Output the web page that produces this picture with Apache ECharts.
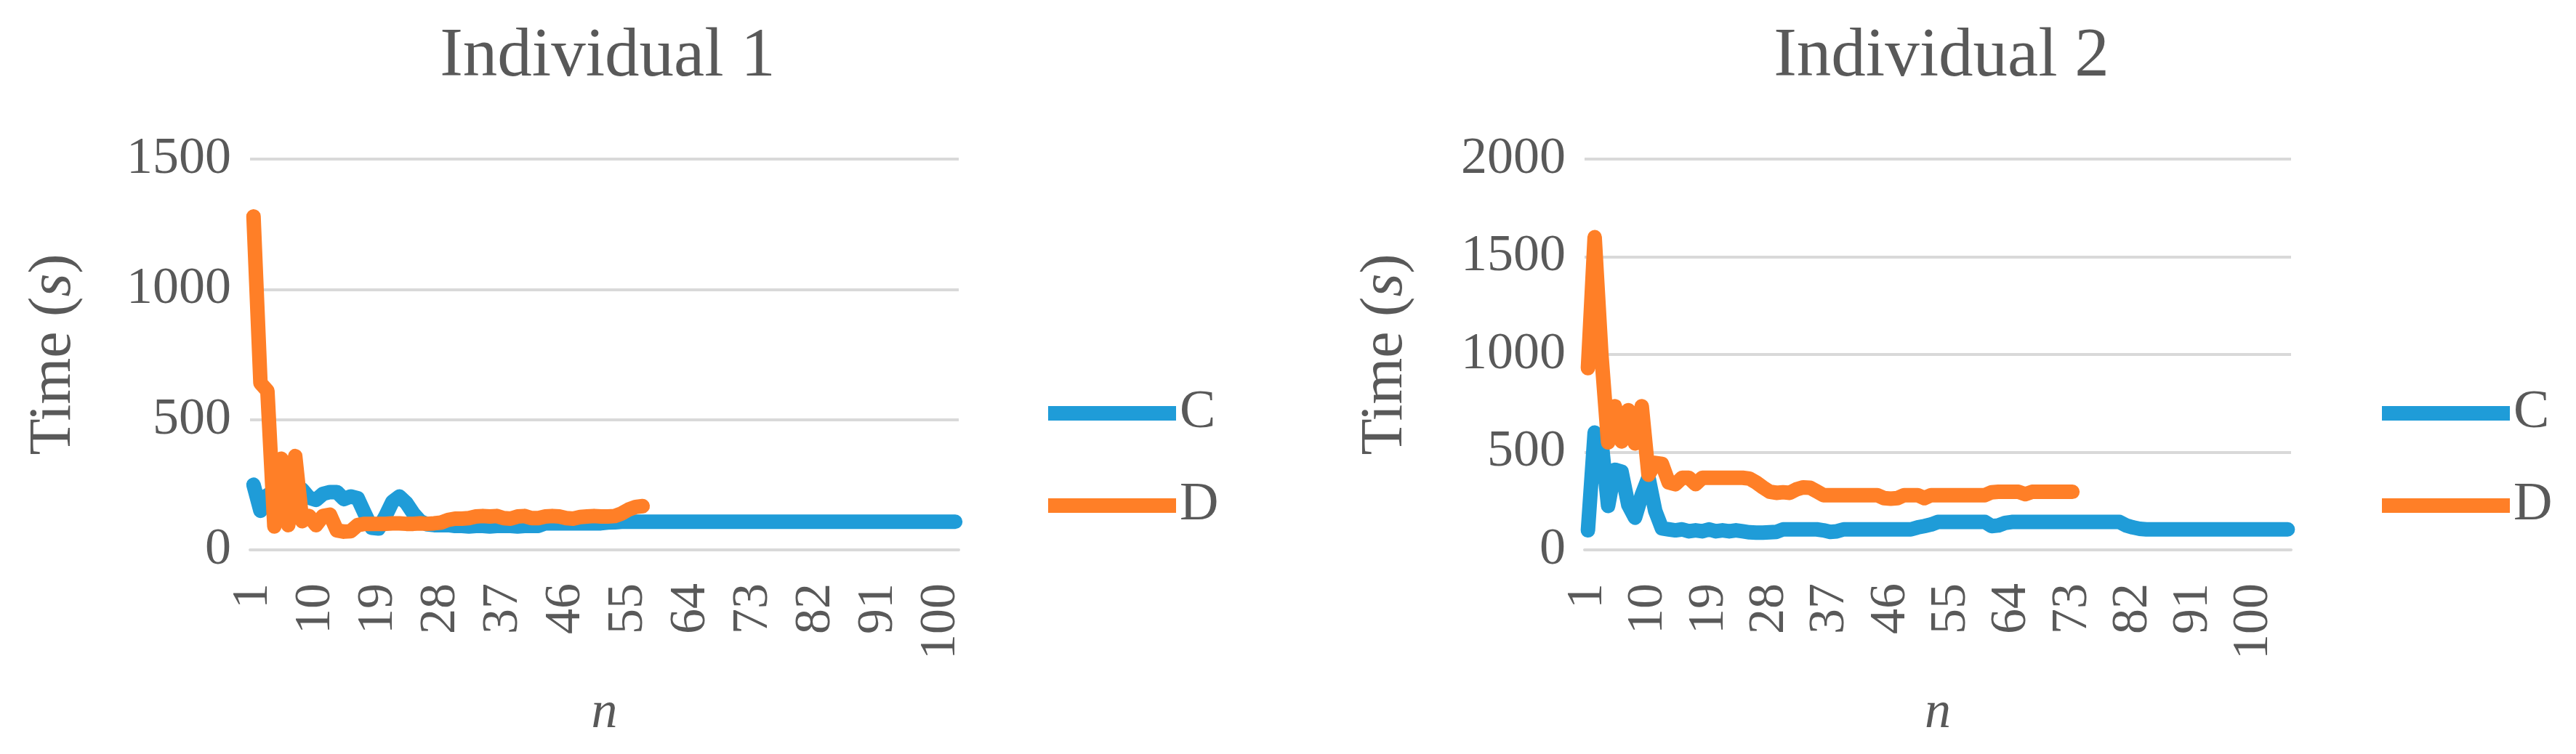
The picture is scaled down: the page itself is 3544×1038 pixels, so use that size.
<!DOCTYPE html>
<html>
<head>
<meta charset="utf-8">
<script src="https://cdn.jsdelivr.net/npm/echarts@6/dist/echarts.min.js"></script>
<style>
html,body{margin:0;padding:0;background:#fff;}
#chart{width:3544px;height:1038px;}
</style>
</head>
<body>
<div id="chart"></div>
<script>
// ---- data ----
const nCountLeft = 102;
const nCountRight = 105;
const categoriesLeft = Array.from({length: nCountLeft}, (_, i) => String(i + 1));
const categoriesRight = Array.from({length: nCountRight}, (_, i) => String(i + 1));

const ind1C = [250,150,210,220,235,205,240,232,200,192,
  215,222,222,195,205,198,140,85,82,130,
  185,205,180,140,110,98,95,95,95,92,
  92,90,92,92,90,92,92,92,90,92,92,92,
  102,102,102,102,102,102,102,102,102,
  105,106,
  108,108,108,108,108,108,108,108,108,108,
  108,108,108,108,108,108,108,108,108,108,
  108,108,108,108,108,108,108,108,108,108,
  108,108,108,108,108,108,108,108,108,108,
  108,108,108,108,108,108,108,108,108];

const ind1D = [1280,640,610,90,350,95,360,110,130,95,
  130,135,75,70,72,95,100,100,100,100,
  102,102,100,100,102,100,102,105,115,120,
  120,122,128,130,128,130,122,120,128,130,
  122,122,128,130,128,122,120,126,128,130,
  128,128,130,140,155,165,168];

const ind2C = [100,600,560,225,410,400,230,165,280,370,
  200,110,105,100,105,95,100,95,105,95,
  100,95,100,95,90,88,88,90,92,105,
  105,105,105,105,105,100,92,95,105,
  105,105,105,105,105,105,105,105,105,105,
  115,122,130,143,
  143,143,143,143,143,143,143,
  122,125,138,143,
  143,143,143,143,143,143,143,143,143,143,143,143,143,143,143,143,
  125,115,108,
  105,105,105,105,105,105,105,105,105,105,105,
  105,105,105,105,105,105,105,105,105,105,105];

const ind2D = [930,1600,1000,550,735,555,715,545,735,385,
  445,440,345,336,369,369,336,369,369,369,
  369,369,369,369,365,345,320,298,292,295,
  292,310,320,318,300,280,
  280,280,280,280,280,280,280,280,
  265,262,265,280,
  280,280,
  265,
  280,280,280,280,280,280,280,280,280,
  295,
  297,297,297,297,
  285,
  297,297,297,297,297,297,297];

const yTicksLeft = {min: 0, max: 1500, interval: 500};
const yTicksRight = {min: 0, max: 2000, interval: 500};
const titles = ['Individual 1', 'Individual 2'];
const seriesNames = ['C', 'D'];

// ---- style ----
const FONT = "'Liberation Serif', 'Times New Roman', serif";
const GRAY = '#595959';
const GRID_COLOR = '#d9d9d9';
const BLUE = '#1f9cd8';
const ORANGE = '#ff7f27';

function xAxisCfg(idx, cats) {
  return {
    type: 'category', gridIndex: idx, data: cats, boundaryGap: true,
    axisTick: {show: false},
    axisLine: {show: true, lineStyle: {color: GRID_COLOR, width: 4}},
    axisLabel: {interval: 8, rotate: 90, fontSize: 70, fontFamily: FONT, color: GRAY, margin: 46},
    name: 'n', nameLocation: 'middle', nameGap: 189,
    nameTextStyle: {fontSize: 72, fontFamily: FONT, fontStyle: 'italic', color: GRAY}
  };
}
function yAxisCfg(idx, t, gap) {
  return {
    type: 'value', gridIndex: idx, min: t.min, max: t.max, interval: t.interval,
    axisLine: {show: false}, axisTick: {show: false},
    splitLine: {lineStyle: {color: GRID_COLOR, width: 4}},
    axisLabel: {fontSize: 72, fontFamily: FONT, color: GRAY, margin: 26,
      formatter: function (v) { return String(v); }},
    name: '{a|Time (}{b|s}{a|)}', nameLocation: 'middle', nameGap: gap, nameRotate: 90,
    nameTextStyle: {
      fontSize: 82, fontFamily: FONT, color: GRAY,
      rich: {
        a: {fontSize: 82, fontFamily: FONT, color: GRAY},
        b: {fontSize: 82, fontFamily: FONT, fontStyle: 'italic', color: GRAY}
      }
    }
  };
}
function lineSeries(name, data, color, idx) {
  return {
    type: 'line', name: name, data: data, xAxisIndex: idx, yAxisIndex: idx,
    symbol: 'none', smooth: false, color: color,
    lineStyle: {color: color, width: 20, cap: 'round', join: 'round'}
  };
}
function legendCfg(left) {
  return {
    orient: 'vertical', left: left, top: 524, icon: 'rect',
    itemWidth: 176, itemHeight: 20, itemGap: 47,
    data: seriesNames,
    textStyle: {fontSize: 74, fontFamily: FONT, color: GRAY, lineHeight: 80, padding: [0,0,0,0]}
  };
}

const chart = echarts.init(document.getElementById('chart'), null, {renderer: 'canvas'});
chart.setOption({
  animation: false,
  backgroundColor: '#ffffff',
  title: [
    {text: titles[0], left: 831, top: 27, textAlign: 'center',
     textStyle: {fontSize: 95, fontWeight: 'normal', fontFamily: FONT, color: GRAY}},
    {text: titles[1], left: 2666, top: 27, textAlign: 'center',
     textStyle: {fontSize: 95, fontWeight: 'normal', fontFamily: FONT, color: GRAY}}
  ],
  legend: [legendCfg(1437), legendCfg(3272)],
  grid: [
    {left: 344, top: 219, width: 975, height: 538},
    {left: 2180, top: 219, width: 972, height: 538}
  ],
  xAxis: [xAxisCfg(0, categoriesLeft), xAxisCfg(1, categoriesRight)],
  yAxis: [yAxisCfg(0, yTicksLeft, 229), yAxisCfg(1, yTicksRight, 233)],
  series: [
    lineSeries(seriesNames[0], ind1C, BLUE, 0),
    lineSeries(seriesNames[1], ind1D, ORANGE, 0),
    lineSeries(seriesNames[0], ind2C, BLUE, 1),
    lineSeries(seriesNames[1], ind2D, ORANGE, 1)
  ]
});
</script>
</body>
</html>
